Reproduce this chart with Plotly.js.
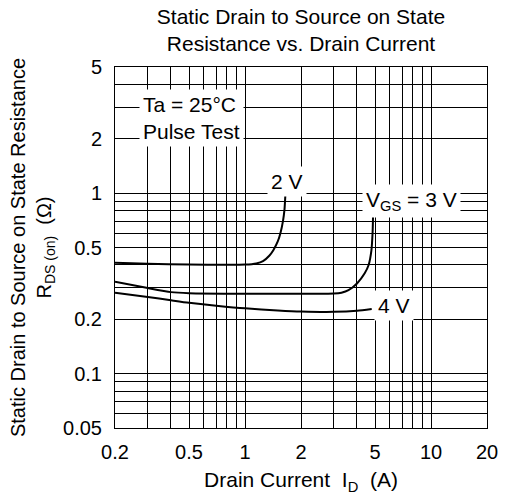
<!DOCTYPE html>
<html>
<head>
<meta charset="utf-8">
<script src="https://cdn.plot.ly/plotly-3.0.1.min.js"></script>
<style>html,body{margin:0;padding:0;background:#fff;}#chart{width:505px;height:502px;}</style>
</head>
<body>
<div id="chart"></div>
<script>
// Drain current I_D (A) and R_DS(on) (ohm)
const id2V = [0.2, 0.3, 0.5, 0.8, 1.0, 1.15, 1.25, 1.35, 1.42, 1.5, 1.55, 1.6, 1.63, 1.65];
const r2V  = [0.412, 0.407, 0.402, 0.401, 0.402, 0.408, 0.42, 0.45, 0.483, 0.54, 0.60, 0.70, 0.81, 1.0];

const id3V = [0.2, 0.3, 0.4, 0.5, 1.0, 2.0, 3.0, 3.3, 3.6, 4.0, 4.4, 4.62, 4.78, 4.85, 4.88, 4.9];
const r3V  = [0.323, 0.298, 0.283, 0.279, 0.277, 0.277, 0.278, 0.281, 0.29, 0.316, 0.36, 0.40, 0.48, 0.60, 0.75, 1.0];

const id4V = [0.2, 0.3, 0.4, 0.5, 0.7, 1.0, 1.5, 2.0, 3.0, 4.0, 4.8];
const r4V  = [0.281, 0.266, 0.255, 0.247, 0.238, 0.230, 0.224, 0.221, 0.220, 0.223, 0.228];

const xTickVals = [0.2, 0.5, 1, 2, 5, 10, 20];
const xTickText = ['0.2', '0.5', '1', '2', '5', '10', '20'];
const xMinorVals = [0.3, 0.4, 0.6, 0.7, 0.8, 0.9, 3, 4, 6, 7, 8, 9];
const yTickVals = [0.05, 0.1, 0.2, 0.5, 1, 2, 5];
const yTickText = ['0.05', '0.1', '0.2', '0.5', '1', '2', '5'];
const yMinorVals = [0.06, 0.07, 0.08, 0.09, 0.3, 0.4, 0.6, 0.7, 0.8, 0.9, 3, 4];

const FONT = 'Liberation Sans, Arial, sans-serif';
const line = {color: 'black', width: 2, shape: 'spline', smoothing: 0.6};

const traces = [
  {x: id2V, y: r2V, mode: 'lines', line: line, name: '2 V', showlegend: false},
  {x: id3V, y: r3V, mode: 'lines', line: line, name: '3 V', showlegend: false},
  {x: id4V, y: r4V, mode: 'lines', line: line, name: '4 V', showlegend: false}
];

const L = Math.log10;
const annFont = {family: FONT, size: 21, color: 'black'};
const ann = (x, y, text, extra) => Object.assign({
  x: L(x), y: L(y), xref: 'x', yref: 'y', text: text, showarrow: false,
  bgcolor: 'white', font: annFont, borderpad: 3
}, extra || {});

const layout = {
  width: 505, height: 502,
  margin: {l: 115, r: 18, t: 67, b: 74},
  paper_bgcolor: 'white', plot_bgcolor: 'white',
  font: {family: FONT, size: 20, color: 'black'},
  showlegend: false,
  title: {
    text: 'Static Drain to Source on State<br>Resistance vs. Drain Current',
    font: {family: FONT, size: 21, color: 'black'},
    x: 0.5, xref: 'paper', xanchor: 'center', y: 0.953, yanchor: 'top'
  },
  xaxis: {
    type: 'log', range: [L(0.2), L(20)],
    tickmode: 'array', tickvals: xTickVals, ticktext: xTickText,
    ticks: '', showgrid: true, gridcolor: 'black', gridwidth: 1,
    minor: {tickmode: 'array', tickvals: xMinorVals, showgrid: true, gridcolor: 'black', gridwidth: 1, ticks: ''},
    showline: true, linecolor: 'black', linewidth: 1, mirror: true,
    zeroline: false, automargin: false,
    ticklabelstandoff: 6,
    tickfont: {family: FONT, size: 20, color: 'black'},
    title: {text: 'Drain Current  I<sub>D</sub>  (A)', font: {family: FONT, size: 21, color: 'black'}, standoff: 10}
  },
  yaxis: {
    type: 'log', range: [L(0.05), L(5)],
    tickmode: 'array', tickvals: yTickVals, ticktext: yTickText,
    ticks: '', showgrid: true, gridcolor: 'black', gridwidth: 1,
    minor: {tickmode: 'array', tickvals: yMinorVals, showgrid: true, gridcolor: 'black', gridwidth: 1, ticks: ''},
    showline: true, linecolor: 'black', linewidth: 1, mirror: true,
    zeroline: false, automargin: false,
    ticklabelstandoff: 8,
    tickfont: {family: FONT, size: 20, color: 'black'},
    title: {text: 'Static Drain to Source on State Resistance<br>R<sub>DS (on)</sub>  (Ω)', font: {family: FONT, size: 20, color: 'black'}, standoff: 6}
  },
  annotations: [
    ann(0.514, 2.6, 'Ta = 25°C<br>Pulse Test', {align: 'left'}),
    ann(1.69, 1.16, '2 V'),
    ann(7.85, 0.9, 'V<sub>GS</sub> = 3 V'),
    ann(6.3, 0.239, '4 V')
  ]
};

Plotly.newPlot('chart', traces, layout, {displayModeBar: false, staticPlot: true});
</script>
</body>
</html>
